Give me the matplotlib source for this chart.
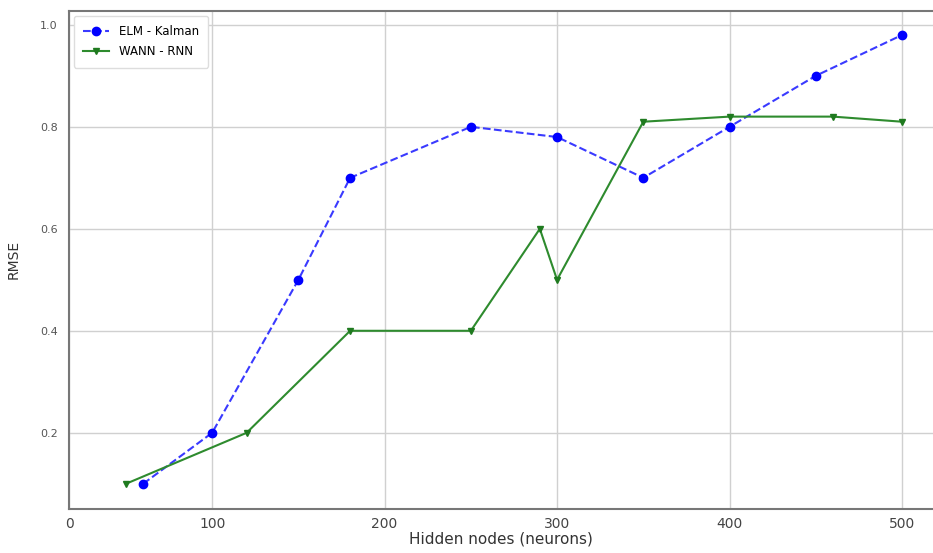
import matplotlib
matplotlib.use("Agg")
import matplotlib.pyplot as plt

# ELM - Kalman
elm_x = [60, 100, 150, 180, 250, 300, 350, 400, 450, 500]
elm_y = [0.10, 0.20, 0.50, 0.70, 0.80, 0.78, 0.70, 0.80, 0.90, 0.98]

# WANN - RNN
wann_x = [50, 120, 180, 250, 290, 300, 350, 400, 460, 500]
wann_y = [0.10, 0.20, 0.40, 0.40, 0.60, 0.50, 0.81, 0.82, 0.82, 0.81]

xtick_pos = [17, 100, 200, 300, 400, 500]
xtick_labels = ['0', '100', '200', '300', '400', '500']
ytick_pos = [0.2, 0.4, 0.6, 0.8, 1.0]

fig = plt.figure(figsize=(9.33, 5.53), dpi=100)
ax = fig.add_axes([0.074, 0.080, 0.926, 0.900])

ax.plot(elm_x, elm_y, linestyle='--', color='#3a3aff', linewidth=1.5,
        marker='o', markersize=6, markerfacecolor='blue', markeredgecolor='blue',
        label='ELM - Kalman')
ax.plot(wann_x, wann_y, linestyle='-', color='#2e8b2e', linewidth=1.5,
        marker='v', markersize=5, markerfacecolor='#1f7a1f', markeredgecolor='#1f7a1f',
        label='WANN - RNN')

ax.set_xlim(17, 518)
ax.set_ylim(0.051, 1.027)
ax.set_xticks(xtick_pos)
ax.set_xticklabels(xtick_labels)
ax.set_yticks(ytick_pos)
ax.tick_params(axis='x', length=0, labelsize=10, labelcolor='#444444', pad=6)
ax.tick_params(axis='y', length=0, labelsize=8, labelcolor='#555555', pad=8)

ax.grid(True, color='#d0d0d0', linewidth=1.0)
ax.set_axisbelow(True)
for s in ax.spines.values():
    s.set_color('#777777')
    s.set_linewidth(1.5)
ax.spines['right'].set_visible(False)

ax.set_xlabel('Hidden nodes (neurons)', fontsize=11, color='#333333', labelpad=0)
ax.set_ylabel('RMSE', fontsize=10, color='#333333', labelpad=14)

ax.legend(loc='upper left', fontsize=8.5, frameon=True, framealpha=1.0,
          edgecolor='#dddddd', borderaxespad=0.4, borderpad=0.8,
          labelspacing=0.6, handlelength=2.2)

fig.savefig('out.png', dpi=100)
